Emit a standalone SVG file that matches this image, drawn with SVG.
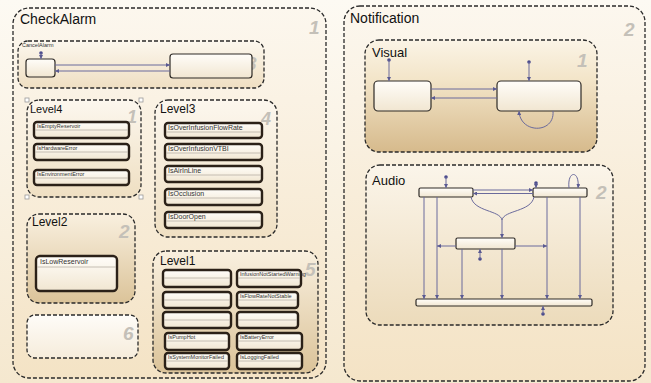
<svg xmlns="http://www.w3.org/2000/svg" width="651" height="383" viewBox="0 0 651 383">
  <style>
    .chart { stroke: #2a2a2a; stroke-width: 1.3; stroke-dasharray: 4 2; }
    .title { font-family: "Liberation Sans", Arial, sans-serif; fill: #111; }
    .num { font-family: "Liberation Sans", Arial, sans-serif; font-weight: bold; font-style: italic; fill: #c4c0b8; }
    .st { fill: url(#stateFill); stroke: #2b2118; stroke-width: 2.4; }
    .st2 { fill: url(#stateFill); stroke: #2e2a26; stroke-width: 1.2; }
    .div { stroke: #b8b0a4; stroke-width: 0.8; }
    .lbl { font-family: "Liberation Sans", Arial, sans-serif; font-size: 5.5px; fill: #333; }
    .lbl3 { font-family: "Liberation Sans", Arial, sans-serif; font-size: 7px; fill: #333; }
    .tr { fill: none; stroke: #6a6a9c; stroke-width: 1; }
    .dot { fill: #4a4a8c; }
    .handle { fill: #fff; stroke: #999; stroke-width: 0.8; }
  </style>
  <defs>
    <linearGradient id="bg" x1="0" y1="0" x2="0" y2="1">
      <stop offset="0" stop-color="#fdfaf3"/>
      <stop offset="1" stop-color="#f5e8cf"/>
    </linearGradient>
    <linearGradient id="chartFill" x1="0" y1="0" x2="0" y2="1">
      <stop offset="0" stop-color="#fcf7ee"/>
      <stop offset="1" stop-color="#f4e3c5"/>
    </linearGradient>
    <linearGradient id="lightFill" x1="0" y1="0" x2="0" y2="1">
      <stop offset="0" stop-color="#fcf7ee"/>
      <stop offset="1" stop-color="#efdfc2"/>
    </linearGradient>
    <linearGradient id="tanFill" x1="0" y1="0" x2="0" y2="1">
      <stop offset="0" stop-color="#f9f0df"/>
      <stop offset="1" stop-color="#dbc399"/>
    </linearGradient>
    <linearGradient id="visFill" x1="0" y1="0" x2="0" y2="1">
      <stop offset="0" stop-color="#fbf4e6"/>
      <stop offset="0.35" stop-color="#f3e5c9"/>
      <stop offset="1" stop-color="#d6ba8c"/>
    </linearGradient>
    <linearGradient id="audioFill" x1="0" y1="0" x2="0" y2="1">
      <stop offset="0" stop-color="#fbf5ea"/>
      <stop offset="1" stop-color="#ecdbbb"/>
    </linearGradient>
    <linearGradient id="paleFill" x1="0" y1="0" x2="0" y2="1">
      <stop offset="0" stop-color="#fefcf8"/>
      <stop offset="1" stop-color="#f6ecdb"/>
    </linearGradient>
    <linearGradient id="stateFill" x1="0" y1="0" x2="0" y2="1">
      <stop offset="0" stop-color="#fffdf9"/>
      <stop offset="1" stop-color="#f1e6d1"/>
    </linearGradient>
    <marker id="arr" viewBox="0 0 6 6" refX="6" refY="3" markerWidth="4" markerHeight="4" orient="auto">
      <path d="M0,0 L6,3 L0,6 Z" fill="#5a5a92"/>
    </marker>
  </defs>

  <rect x="0" y="0" width="651" height="383" fill="url(#bg)"/>

  <!-- CheckAlarm chart -->
  <g id="checkalarm">
    <rect class="chart" x="13" y="8" width="313" height="370" rx="16" fill="url(#chartFill)"/>
    <text class="title" x="20" y="24" font-size="14">CheckAlarm</text>
    <text class="num" x="309" y="34" font-size="19">1</text>
  </g>

  <!-- CancelAlarm -->
  <g id="cancelalarm">
    <rect class="chart" x="18" y="41" width="246" height="47" rx="10" fill="url(#lightFill)"/>
    <text class="lbl" x="22" y="47">CancelAlarm</text>
    <text class="num" x="246" y="70" font-size="19">3</text>
    <rect class="st2" x="26" y="59" width="29" height="18" rx="3"/>
    <rect class="st2" x="170" y="54" width="82" height="24" rx="3"/>
  </g>

  <!-- Level4 -->
  <g id="level4">
    <rect class="chart" x="27" y="100" width="114" height="97" rx="12" fill="url(#lightFill)"/>
    <text class="title" x="30" y="113" font-size="11">Level4</text>
    <text class="num" x="127" y="123" font-size="18">1</text>
    <rect class="st" x="34" y="122" width="95" height="16" rx="3"/>
    <line class="div" x1="35" y1="130" x2="128" y2="130"/>
    <text class="lbl" x="37" y="128">IsEmptyReservoir</text>
    <rect class="st" x="34" y="144" width="95" height="16" rx="3"/>
    <line class="div" x1="35" y1="152" x2="128" y2="152"/>
    <text class="lbl" x="37" y="150">IsHardwareError</text>
    <rect class="st" x="34" y="170" width="95" height="15" rx="3"/>
    <line class="div" x1="35" y1="178" x2="128" y2="178"/>
    <text class="lbl" x="37" y="176">IsEnvironmentError</text>
    <rect class="handle" x="25" y="98" width="4" height="4"/>
    <rect class="handle" x="139" y="98" width="4" height="4"/>
    <rect class="handle" x="25" y="195" width="4" height="4"/>
    <rect class="handle" x="139" y="195" width="4" height="4"/>
  </g>

  <!-- Level3 -->
  <g id="level3">
    <rect class="chart" x="155" y="100" width="122" height="137" rx="13" fill="url(#lightFill)"/>
    <text class="title" x="160" y="113" font-size="12">Level3</text>
    <text class="num" x="261" y="125" font-size="18">4</text>
    <rect class="st" x="165" y="123" width="97" height="15" rx="3"/>
    <line class="div" x1="166" y1="132" x2="261" y2="132"/>
    <text class="lbl3" x="168" y="130">IsOverInfusionFlowRate</text>
    <rect class="st" x="165" y="144" width="97" height="16" rx="3"/>
    <line class="div" x1="166" y1="153" x2="261" y2="153"/>
    <text class="lbl3" x="168" y="151">IsOverInfusionVTBI</text>
    <rect class="st" x="165" y="166" width="97" height="16" rx="3"/>
    <line class="div" x1="166" y1="175" x2="261" y2="175"/>
    <text class="lbl3" x="168" y="173">IsAirInLine</text>
    <rect class="st" x="165" y="189" width="97" height="16" rx="3"/>
    <line class="div" x1="166" y1="198" x2="261" y2="198"/>
    <text class="lbl3" x="168" y="196">IsOcclusion</text>
    <rect class="st" x="165" y="212" width="97" height="16" rx="3"/>
    <line class="div" x1="166" y1="221" x2="261" y2="221"/>
    <text class="lbl3" x="168" y="219">IsDoorOpen</text>
  </g>

  <!-- Level2 -->
  <g id="level2">
    <rect class="chart" x="27" y="214" width="108" height="89" rx="12" fill="url(#tanFill)"/>
    <text class="title" x="32" y="226" font-size="12">Level2</text>
    <text class="num" x="119" y="238" font-size="19">2</text>
    <rect class="st" x="36" y="256" width="81" height="35" rx="4"/>
    <line class="div" x1="37" y1="267" x2="116" y2="267"/>
    <text class="lbl3" x="40" y="264">IsLowReservoir</text>
  </g>

  <!-- chart 6 -->
  <g id="chart6">
    <rect class="chart" x="27" y="315" width="111" height="43" rx="8" fill="url(#paleFill)"/>
    <text class="num" x="123" y="340" font-size="19">6</text>
  </g>

  <!-- Level1 -->
  <g id="level1">
    <rect class="chart" x="153" y="251" width="165" height="122" rx="13" fill="url(#tanFill)"/>
    <text class="title" x="160" y="265" font-size="12">Level1</text>
    <text class="num" x="305" y="276" font-size="19">5</text>
    <rect class="st" x="163" y="270" width="68" height="17" rx="3"/>
    <line class="div" x1="164" y1="278" x2="230" y2="278"/>
    <rect class="st" x="237" y="270" width="64" height="17" rx="3"/>
    <line class="div" x1="238" y1="278" x2="300" y2="278"/>
    <text class="lbl" x="240" y="276" font-size="4.1">InfusionNotStartedWarning</text>
    <rect class="st" x="163" y="292" width="68" height="16" rx="3"/>
    <line class="div" x1="164" y1="300" x2="230" y2="300"/>
    <rect class="st" x="237" y="292" width="61" height="16" rx="3"/>
    <line class="div" x1="238" y1="300" x2="297" y2="300"/>
    <text class="lbl" x="240" y="298" font-size="4.8">IsFlowRateNotStable</text>
    <rect class="st" x="163" y="312" width="68" height="16" rx="3"/>
    <line class="div" x1="164" y1="320" x2="230" y2="320"/>
    <rect class="st" x="237" y="312" width="61" height="16" rx="3"/>
    <line class="div" x1="238" y1="320" x2="297" y2="320"/>
    <rect class="st" x="165" y="333" width="64" height="17" rx="3"/>
    <line class="div" x1="166" y1="341" x2="228" y2="341"/>
    <text class="lbl" x="168" y="339" font-size="4.8">IsPumpHot</text>
    <rect class="st" x="237" y="333" width="65" height="17" rx="3"/>
    <line class="div" x1="238" y1="341" x2="301" y2="341"/>
    <text class="lbl" x="240" y="339" font-size="4.8">IsBatteryError</text>
    <rect class="st" x="165" y="353" width="64" height="16" rx="3"/>
    <line class="div" x1="166" y1="361" x2="228" y2="361"/>
    <text class="lbl" x="168" y="359" font-size="4.8">IsSystemMonitorFailed</text>
    <rect class="st" x="237" y="353" width="65" height="16" rx="3"/>
    <line class="div" x1="238" y1="361" x2="301" y2="361"/>
    <text class="lbl" x="240" y="359" font-size="4.8">IsLoggingFailed</text>
  </g>

  <!-- Notification chart -->
  <g id="notification">
    <rect class="chart" x="344" y="6" width="301" height="375" rx="16" fill="url(#chartFill)"/>
    <text class="title" x="350" y="23" font-size="14">Notification</text>
    <text class="num" x="624" y="36" font-size="19">2</text>
  </g>

  <!-- Visual -->
  <g id="visual">
    <rect class="chart" x="365" y="40" width="232" height="112" rx="14" fill="url(#visFill)"/>
    <text class="title" x="372" y="57" font-size="13">Visual</text>
    <text class="num" x="577" y="67" font-size="19">1</text>
    <rect class="st2" x="374" y="81" width="57" height="30" rx="4"/>
    <rect class="st2" x="497" y="81" width="84" height="30" rx="4"/>
  </g>

  <!-- Audio -->
  <g id="audio">
    <rect class="chart" x="366" y="165" width="247" height="160" rx="14" fill="url(#audioFill)"/>
    <text class="title" x="372" y="185" font-size="13">Audio</text>
    <text class="num" x="596" y="199" font-size="19">2</text>
    <rect class="st2" x="419" y="188" width="54" height="9" rx="1.5"/>
    <rect class="st2" x="533" y="188" width="54" height="9" rx="1.5"/>
    <rect class="st2" x="456" y="238" width="59" height="11" rx="1.5"/>
    <rect class="st2" x="416" y="299" width="176" height="7" rx="1.5"/>
  </g>

  <!-- transitions -->
  <g id="connectors">
    <!-- CancelAlarm -->
    <circle class="dot" cx="41" cy="53" r="1.8"/>
    <line class="tr" x1="41" y1="53" x2="41" y2="59" marker-end="url(#arr)"/>
    <line class="tr" x1="55" y1="65" x2="170" y2="65" marker-end="url(#arr)"/>
    <line class="tr" x1="170" y1="71" x2="55" y2="71" marker-end="url(#arr)"/>

    <!-- Visual -->
    <circle class="dot" cx="389" cy="60" r="1.8"/>
    <line class="tr" x1="389" y1="60" x2="389" y2="81" marker-end="url(#arr)"/>
    <circle class="dot" cx="529" cy="62" r="1.8"/>
    <line class="tr" x1="529" y1="62" x2="529" y2="81" marker-end="url(#arr)"/>
    <line class="tr" x1="431" y1="89" x2="497" y2="89" marker-end="url(#arr)"/>
    <line class="tr" x1="497" y1="98" x2="431" y2="98" marker-end="url(#arr)"/>
    <path class="tr" d="M553,111 C555,134 520,134 519,111" marker-end="url(#arr)"/>

    <!-- Audio -->
    <circle class="dot" cx="446" cy="177" r="1.8"/>
    <line class="tr" x1="446" y1="177" x2="446" y2="188" marker-end="url(#arr)"/>
    <circle class="dot" cx="536" cy="183" r="1.8"/>
    <line class="tr" x1="536" y1="183" x2="536" y2="188" marker-end="url(#arr)"/>
    <circle class="dot" cx="480" cy="259" r="1.8"/>
    <line class="tr" x1="480" y1="259" x2="480" y2="249" marker-end="url(#arr)"/>
    <circle class="dot" cx="543" cy="314" r="1.8"/>
    <line class="tr" x1="543" y1="314" x2="543" y2="306" marker-end="url(#arr)"/>
    <path class="tr" d="M569,188 C567,170 580,170 578,188" marker-end="url(#arr)"/>
    <line class="tr" x1="473" y1="190" x2="533" y2="190" marker-end="url(#arr)"/>
    <line class="tr" x1="533" y1="193.5" x2="473" y2="193.5" marker-end="url(#arr)"/>
    <path class="tr" d="M471,197 C474,212 500,210 502,220"/>
    <path class="tr" d="M534,197 C531,212 504,210 502,220"/>
    <line class="tr" x1="502" y1="220" x2="502" y2="238" marker-end="url(#arr)"/>
    <line class="tr" x1="424" y1="197" x2="424" y2="299" marker-end="url(#arr)"/>
    <line class="tr" x1="437" y1="197" x2="437" y2="299" marker-end="url(#arr)"/>
    <line class="tr" x1="462" y1="249" x2="462" y2="299" marker-end="url(#arr)"/>
    <line class="tr" x1="502" y1="249" x2="502" y2="299" marker-end="url(#arr)"/>
    <line class="tr" x1="547" y1="197" x2="547" y2="299" marker-end="url(#arr)"/>
    <line class="tr" x1="580" y1="197" x2="580" y2="299" marker-end="url(#arr)"/>
    <line class="tr" x1="456" y1="246" x2="437" y2="246" marker-end="url(#arr)"/>
    <line class="tr" x1="515" y1="246" x2="547" y2="246" marker-end="url(#arr)"/>
  </g>
</svg>
